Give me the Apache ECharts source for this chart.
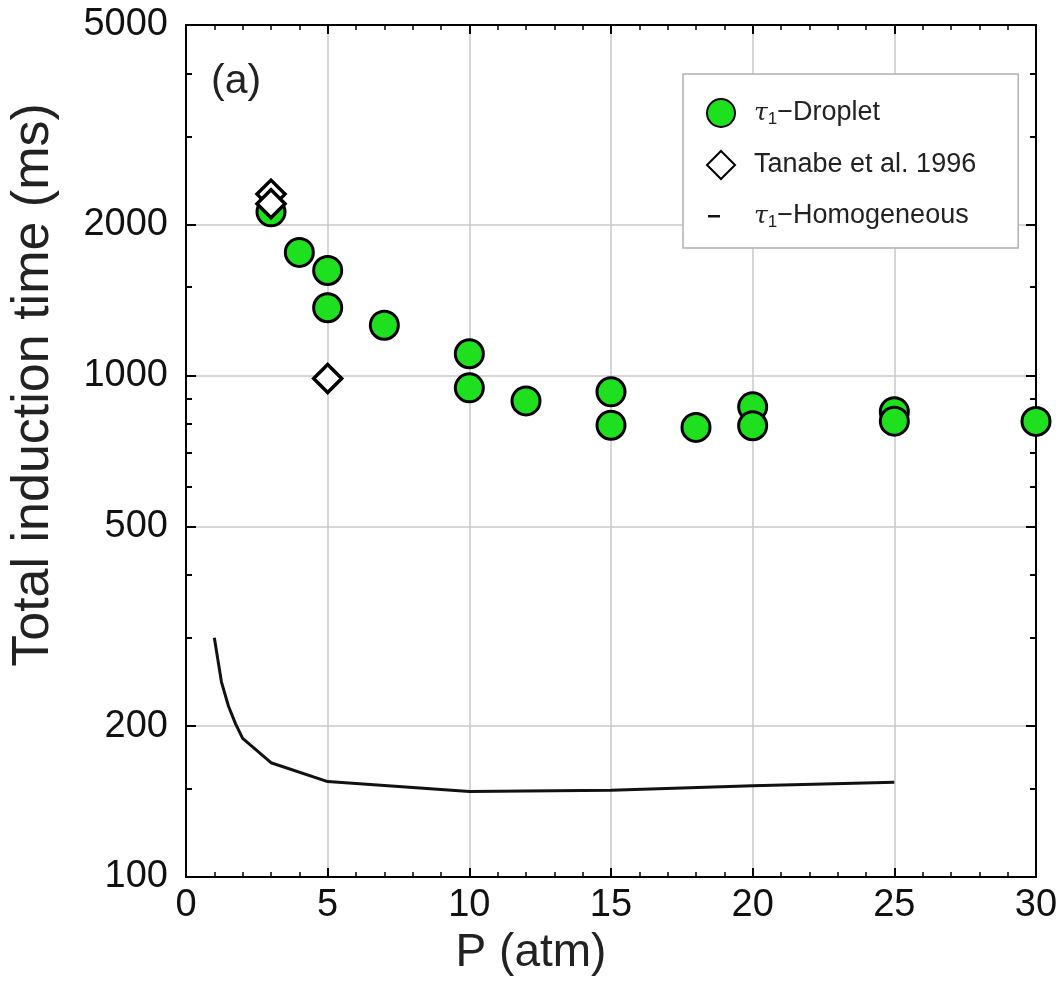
<!DOCTYPE html>
<html>
<head>
<meta charset="utf-8">
<script src="https://cdn.jsdelivr.net/npm/echarts@6/dist/echarts.min.js"></script>
<style>
html,body{margin:0;padding:0;background:#fff;}
#chart{width:1061px;height:1000px;}
</style>
</head>
<body>
<div id="chart"></div>
<script>
// ---- data ----
const dropletP = [3, 4, 5, 5, 7, 10, 10, 12, 15, 15, 18, 20, 20, 25, 25, 30];
const dropletT = [2120, 1760, 1620, 1365, 1260, 1105, 945, 890, 928, 796, 788, 866, 794, 847, 811, 810];
const tanabeP = [3, 3, 5];
const tanabeT = [2300, 2200, 986];
const homP = [1, 1.25, 1.5, 1.75, 2, 3, 5, 10, 15, 20, 25];
const homT = [300, 245, 219, 202, 189, 169, 155, 148, 149, 152, 154.5];
const yMajorTicks = [100, 200, 500, 1000, 2000, 5000];
const yMinorTicks = [150, 300, 400, 600, 700, 800, 900, 1500, 3000, 4000];
const seriesNames = ['τ1-Droplet', 'Tanabe et al. 1996', 'τ1-Homogeneous'];

const FONT = "'Liberation Sans', Arial, sans-serif";
const pairs = (xs, ys) => xs.map((x, i) => [x, ys[i]]);

const frame = { show: true, lineStyle: { color: '#000', width: 2 } };
const gridLine = { show: true, lineStyle: { color: '#c8c8c8', width: 1.5 } };

function yAxisDef(pos, ticks, len, labels, split) {
  return {
    type: 'log', logBase: 10, min: 100, max: 5000, position: pos,
    axisLine: frame,
    axisTick: { show: true, inside: true, length: len, customValues: ticks, lineStyle: { color: '#000', width: 2 } },
    axisLabel: labels ? {
      show: true, customValues: ticks, fontSize: 38, color: '#111', fontFamily: FONT, margin: 18,
      formatter: function (v) { return String(Math.round(v)); }
    } : { show: false },
    splitLine: split ? gridLine : { show: false },
    minorTick: { show: false }, minorSplitLine: { show: false }
  };
}

const chart = echarts.init(document.getElementById('chart'));
chart.setOption({
  animation: false,
  backgroundColor: '#fff',
  title: {
    text: '(a)', left: 206, top: 56,
    textStyle: { fontSize: 41, fontWeight: 'normal', color: '#222', fontFamily: FONT }
  },
  grid: { left: 184, right: 25, top: 25, bottom: 123, containLabel: false },
  legend: {
    orient: 'vertical', left: 683, top: 74,
    padding: [24, 42, 17, 23],
    itemGap: 22, itemWidth: 28, itemHeight: 28,
    borderColor: '#b0b0b0', borderWidth: 1.5, backgroundColor: '#fff',
    data: [
      { name: seriesNames[0] },
      { name: seriesNames[1] },
      { name: seriesNames[2], icon: 'path://M0,0 M1,13 H13 V15.5 H1 Z M28,28' }
    ],
    formatter: function (n) {
      if (n === seriesNames[0]) return '{t|τ}{s|1}{n|−Droplet}';
      if (n === seriesNames[2]) return '{t|τ}{s|1}{n|−Homogeneous}';
      return '{n|' + n + '}';
    },
    textStyle: {
      padding: [0, 0, 0, 14],
      fontFamily: FONT, fontSize: 27, color: '#222',
      rich: {
        t: { fontFamily: "'DejaVu Serif', serif", fontStyle: 'italic', fontSize: 25, color: '#222', lineHeight: 30 },
        s: { fontFamily: FONT, fontSize: 17, color: '#222', lineHeight: 17, verticalAlign: 'bottom' },
        n: { fontFamily: FONT, fontSize: 27, color: '#222', lineHeight: 30 }
      }
    }
  },
  xAxis: [
    {
      type: 'value', min: 0, max: 30, interval: 5, position: 'bottom',
      axisLine: frame,
      axisTick: { show: true, inside: true, length: 9, lineStyle: { color: '#000', width: 2 } },
      minorTick: { show: true, splitNumber: 5, length: 5, lineStyle: { color: '#000', width: 1.5 } },
      axisLabel: { fontSize: 38, color: '#111', fontFamily: FONT, margin: 10 },
      splitLine: gridLine,
      name: 'P (atm)', nameLocation: 'middle', nameGap: 52,
      nameTextStyle: { fontSize: 46, color: '#222', fontFamily: FONT, padding: [0, 160, 0, 0] }
    },
    {
      type: 'value', min: 0, max: 30, interval: 5, position: 'top',
      axisLine: frame,
      axisTick: { show: true, inside: true, length: 9, lineStyle: { color: '#000', width: 2 } },
      minorTick: { show: true, splitNumber: 5, length: 5, lineStyle: { color: '#000', width: 1.5 } },
      axisLabel: { show: false }, splitLine: { show: false }
    }
  ],
  yAxis: [
    Object.assign(yAxisDef('left', yMajorTicks, 10, true, true), {
      name: 'Total induction time (ms)', nameLocation: 'middle', nameRotate: 90, nameGap: 126,
      nameTextStyle: { fontSize: 52, color: '#222', fontFamily: FONT, padding: [0, 0, 0, 132] }
    }),
    yAxisDef('left', yMinorTicks, 6, false, false),
    yAxisDef('right', yMajorTicks, 10, false, false),
    yAxisDef('right', yMinorTicks, 6, false, false)
  ],
  series: [
    {
      name: seriesNames[0], type: 'scatter', xAxisIndex: 0, yAxisIndex: 0,
      data: pairs(dropletP, dropletT),
      symbol: 'circle', symbolSize: 28, z: 3,
      itemStyle: { color: '#1fe01f', borderColor: '#000', borderWidth: 3, opacity: 1 }
    },
    {
      name: seriesNames[1], type: 'scatter', xAxisIndex: 0, yAxisIndex: 0,
      data: pairs(tanabeP, tanabeT),
      symbol: 'diamond', symbolSize: 28, z: 4,
      itemStyle: { color: '#fff', borderColor: '#000', borderWidth: 3.5, opacity: 1 }
    },
    {
      name: seriesNames[2], type: 'line', xAxisIndex: 0, yAxisIndex: 0,
      data: pairs(homP, homT),
      showSymbol: false, symbol: 'none', smooth: false, z: 5,
      lineStyle: { color: '#111', width: 3 },
      itemStyle: { color: '#111' }
    }
  ]
});
</script>
</body>
</html>
